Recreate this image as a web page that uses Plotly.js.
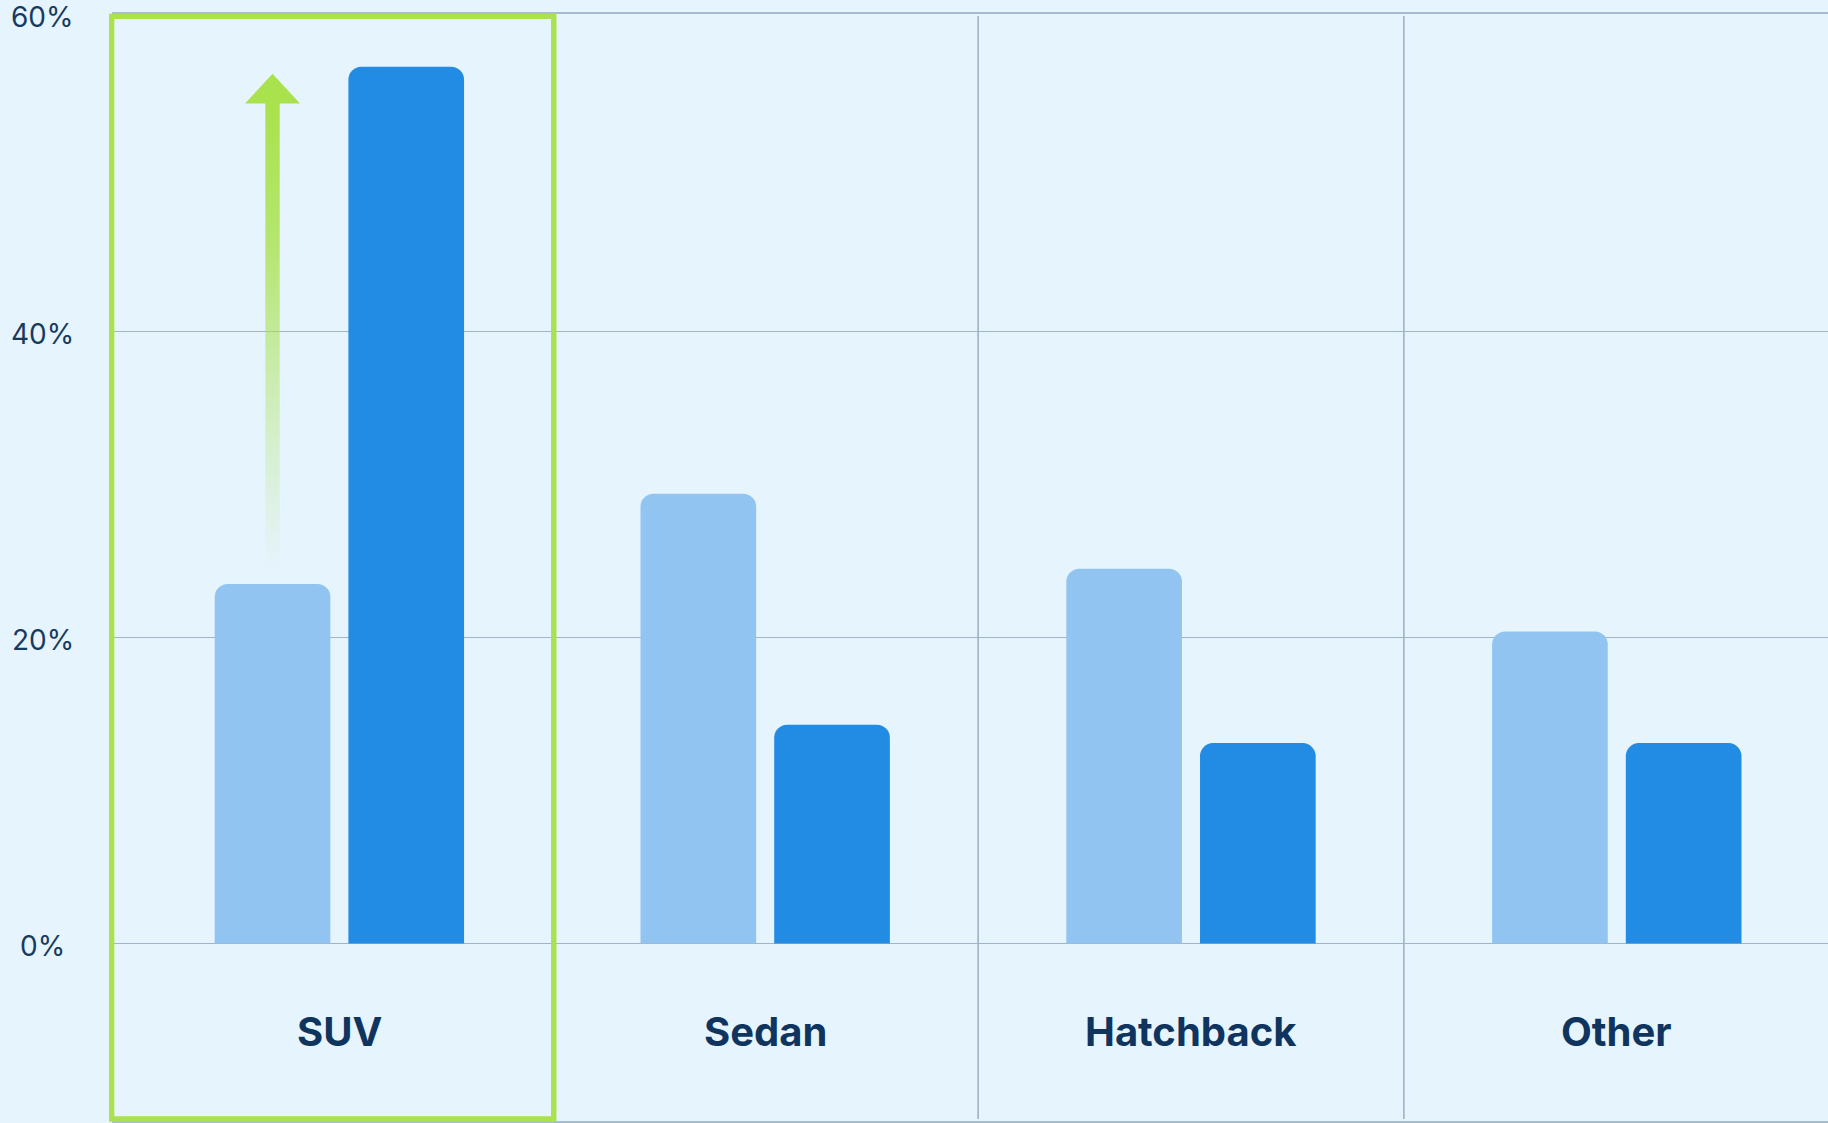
<!DOCTYPE html>
<html>
<head>
<meta charset="utf-8">
<script src="https://cdn.plot.ly/plotly-3.0.1.min.js"></script>
<style>
  html, body { margin: 0; padding: 0; background: #e6f4fd; }
  #chart { width: 1828px; height: 1123px; }
</style>
</head>
<body>
<div id="chart"></div>
<script>
// ---- data ----
const categories = ['SUV', 'Sedan', 'Hatchback', 'Other'];
const seriesBefore = [23.5, 29.4, 24.5, 20.4];   // light bars
const seriesAfter  = [57.3, 14.3, 13.1, 13.1];   // dark bars
const yTickVals   = [0, 20, 40, 60];
const yTickLabels = ['0%', '20%', '40%', '60%'];

// ---- layout geometry ----
const W = 1828, H = 1123;
const M = { l: 112, r: 0, t: 14, b: 2 };
const PW = W - M.l - M.r, PH = H - M.t - M.b;
const xRange = [-0.534, 3.496];
const yRange = [-11.6, 60.75];
const pxX = PW / (xRange[1] - xRange[0]);
const pxY = PH / (yRange[1] - yRange[0]);
const bargap = 0.372, bargroupgap = 0.135;
const slot = (1 - bargap) / 2;

const xIdx = categories.map((c, i) => i);
const toPaperX = v => (v - xRange[0]) / (xRange[1] - xRange[0]);
// tick values that sit at the top edge are drawn on the plot border
const atTop = v => yRange[1] - v < 1.5;

const green = '#a9e24c';
const navy = '#0f355e';

// ---- arrow (from SUV light bar up to SUV dark bar) ----
const ax = xIdx[0] - slot / 2;
const shaftHalf = 7.2 / pxX, headHalf = 27.5 / pxX, headH = 29.7 / pxY;
const tipY = seriesAfter[0] - 7 / pxY;
const baseY = tipY - headH;
const botY = seriesBefore[0] + 14 / pxY;

const traces = [
  {
    type: 'bar', x: xIdx, y: seriesBefore, name: 'Before',
    marker: { color: '#92c4f2', cornerradius: 13 },
    hoverinfo: 'skip', showlegend: false
  },
  {
    type: 'bar', x: xIdx, y: seriesAfter, name: 'After',
    marker: { color: '#228be4', cornerradius: 13 },
    hoverinfo: 'skip', showlegend: false
  },
  {
    type: 'scatter', mode: 'lines',
    x: [ax - shaftHalf, ax + shaftHalf, ax + shaftHalf, ax - shaftHalf, ax - shaftHalf],
    y: [botY, botY, baseY + 0.05, baseY + 0.05, botY],
    line: { width: 0, color: 'rgba(0,0,0,0)' },
    fill: 'toself',
    fillgradient: {
      type: 'vertical',
      colorscale: [
        [0, 'rgba(169,226,76,0.0)'],
        [0.25, 'rgba(169,226,76,0.25)'],
        [0.7, 'rgba(169,226,76,0.8)'],
        [1, 'rgba(169,226,76,1)']
      ]
    },
    hoverinfo: 'skip', showlegend: false
  }
];

const shapes = [];
// category dividers
for (let i = 0; i < categories.length - 1; i++) {
  shapes.push({
    type: 'line', xref: 'x', yref: 'paper',
    x0: xIdx[i] + 0.5, x1: xIdx[i] + 0.5, y0: 2 / PH, y1: 1 - 2 / PH,
    line: { color: '#8ea2b9', width: 1.3 }, layer: 'below'
  });
}
// arrow head
shapes.push({
  type: 'path', xref: 'x', yref: 'y',
  path: `M ${ax - headHalf},${baseY} L ${ax},${tipY} L ${ax + headHalf},${baseY} Z`,
  fillcolor: green, line: { width: 0 }, layer: 'above'
});
// highlight box around first category
shapes.push({
  type: 'rect', xref: 'paper', yref: 'paper',
  x0: -0.3 / PW, x1: toPaperX(xIdx[0] + 0.5) + 1.5 / PW,
  y0: 2 / PH, y1: 1 - 2.3 / PH,
  line: { color: green, width: 5.3 }, fillcolor: 'rgba(0,0,0,0)', layer: 'above'
});

const annotations = [];
// y tick labels
yTickVals.forEach((v, i) => {
  annotations.push({
    xref: 'paper', yref: 'y',
    x: (42.5 - M.l) / PW, y: atTop(v) ? yRange[1] : v,
    text: yTickLabels[i], showarrow: false,
    xanchor: 'center', yanchor: 'middle', yshift: -2.5,
    font: { family: 'Inter, "Noto Sans", sans-serif', size: 28, color: '#173b60' }
  });
});
// category labels
categories.forEach((c, i) => {
  annotations.push({
    xref: 'x', yref: 'y', x: xIdx[i], y: -5.78,
    text: c, showarrow: false, xanchor: 'center', yanchor: 'middle',
    font: { family: 'Inter, "Noto Sans", sans-serif', size: 40, weight: 700, color: navy }
  });
});

const layout = {
  width: W, height: H,
  margin: M,
  paper_bgcolor: '#e6f4fd', plot_bgcolor: '#e6f4fd',
  barmode: 'group', bargap: bargap, bargroupgap: bargroupgap,
  showlegend: false, hovermode: false,
  xaxis: {
    type: 'linear', range: xRange, fixedrange: true,
    showgrid: false, zeroline: false, showticklabels: false, ticks: '',
    showline: true, mirror: true, linecolor: '#a9bccf', linewidth: 2
  },
  yaxis: {
    range: yRange, fixedrange: true,
    tickvals: yTickVals.filter(v => !atTop(v)),
    showticklabels: false, ticks: '',
    showgrid: true, gridcolor: '#a2b4c7', gridwidth: 1.6,
    zeroline: false, showline: false
  },
  shapes: shapes,
  annotations: annotations
};

Plotly.newPlot('chart', traces, layout, { displayModeBar: false, staticPlot: true });
</script>
</body>
</html>
